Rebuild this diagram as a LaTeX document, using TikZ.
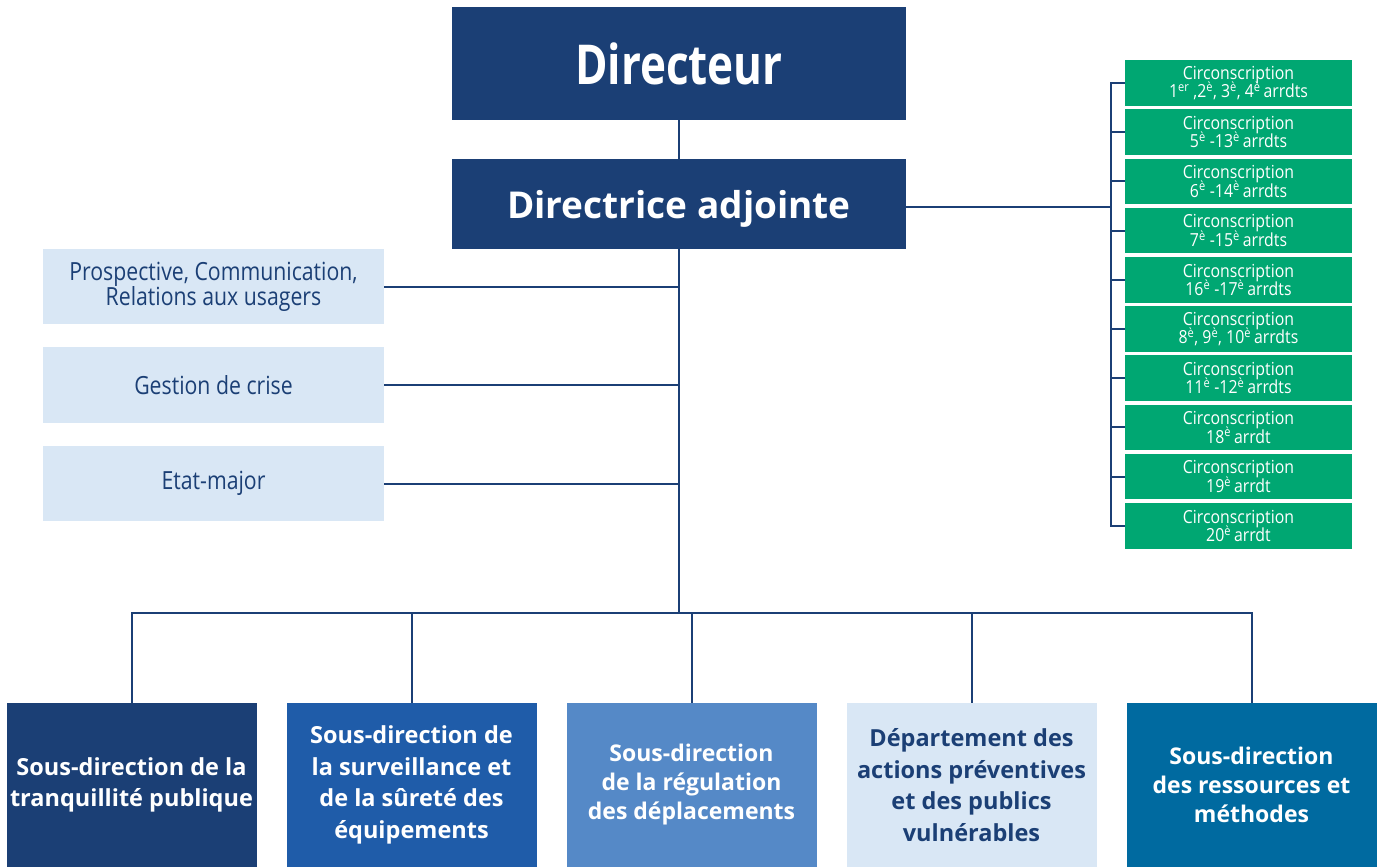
\documentclass[tikz,border=0pt]{standalone}
\usepackage{fontspec}
\setmainfont{Open Sans}
\newfontfamily\narrowfont[FakeStretch=0.8]{Open Sans}
\newfontfamily\staffont[FakeStretch=0.85]{Open Sans}
\newfontfamily\circfont[FakeStretch=0.88]{Open Sans}
\usetikzlibrary{positioning}
\definecolor{navy}{HTML}{1B3F75}
\definecolor{paleblue}{HTML}{D9E7F5}
\definecolor{midblue}{HTML}{1F5CA9}
\definecolor{skyblue}{HTML}{5589C7}
\definecolor{seablue}{HTML}{006AA0}
\definecolor{circgreen}{HTML}{00A772}
\newcommand{\ieme}{\textsuperscript{è}}
\newcommand{\circtext}{\circfont\fontsize{18}{18.5}\selectfont\lineskiplimit -4pt\relax}

\begin{document}
\begin{tikzpicture}[x=1pt,y=-1pt]
    \tikzstyle{chief} = [fill=navy, text=white, shape=rectangle, minimum width=454pt, inner sep=0pt]
    \tikzstyle{staff} = [fill=paleblue, text=navy, shape=rectangle, minimum width=341pt, minimum height=75.5pt, inner sep=0pt, align=center, node distance=98.5pt, font=\staffont\fontsize{25}{25.5}\selectfont]
    \tikzstyle{circ} = [fill=circgreen, text=white, shape=rectangle, minimum width=227pt, minimum height=45.5pt, inner sep=0pt, align=center, node distance=49.2pt, font=\circtext]
    \tikzstyle{subdir} = [text=white, shape=rectangle, minimum width=250pt, minimum height=164pt, inner sep=0pt, align=center, node distance=280pt, font=\bfseries\fontsize{23.5}{31.5}\selectfont]
    \useasboundingbox (0,0) rectangle (1379,867);
    %Creating Blocks and Connection Nodes
    \node [chief, minimum height=113pt, font=\narrowfont\bfseries\fontsize{55}{55}\selectfont] (dir) at (679,63.5) {Directeur};
    \node [chief, minimum height=90pt, text depth=0pt, font=\bfseries\fontsize{37}{37}\selectfont] (dir_adj) at (679,204) {Directrice adjointe};

    \node [staff] (staff_1) at (213.5,286.7) {Prospective, Communication,\\Relations aux usagers};
    \node [staff, below of=staff_1] (staff_2) {Gestion de crise};
    \node [staff, below of=staff_2] (staff_3) {Etat-major};

    \node [circ] (circ_1) at (1238.5,83) {Circonscription\\1\textsuperscript{er} ,2\ieme, 3\ieme, 4\ieme\,arrdts};
    \node [circ, below of=circ_1] (circ_2) {Circonscription\\5\ieme\ -13\ieme\,arrdts};
    \node [circ, below of=circ_2] (circ_3) {Circonscription\\6\ieme\ -14\ieme\,arrdts};
    \node [circ, below of=circ_3] (circ_4) {Circonscription\\7\ieme\ -15\ieme\,arrdts};
    \node [circ, below of=circ_4] (circ_5) {Circonscription\\16\ieme\ -17\ieme\,arrdts};
    \node [circ, below of=circ_5] (circ_6) {Circonscription\\8\ieme, 9\ieme, 10\ieme\,arrdts};
    \node [circ, below of=circ_6] (circ_7) {Circonscription\\11\ieme\ -12\ieme\,arrdts};
    \node [circ, below of=circ_7] (circ_8) {Circonscription\\18\ieme\,arrdt};
    \node [circ, below of=circ_8] (circ_9) {Circonscription\\19\ieme\,arrdt};
    \node [circ, below of=circ_9] (circ_10) {Circonscription\\20\ieme\,arrdt};

    \node [subdir, fill=navy] (sd_1) at (131.5,785) {Sous-direction de la\\tranquillité publique};
    \node [subdir, fill=midblue, right of=sd_1] (sd_2) {Sous-direction de\\la surveillance et\\de la sûreté des\\équipements};
    \node [subdir, fill=skyblue, right of=sd_2, font=\bfseries\fontsize{23}{29}\selectfont] (sd_3) {Sous-direction\\de la régulation\\des déplacements};
    \node [subdir, fill=paleblue, text=navy, right of=sd_3] (sd_4) {Département des\\actions préventives\\et des publics\\vulnérables};
    \node [subdir, fill=seablue, right of=sd_4, font=\bfseries\fontsize{23}{29}\selectfont] (sd_5) {Sous-direction\\des ressources et\\méthodes};

    \coordinate (bus_mid) at (679,613);
    \coordinate (bracket) at (1111,0);
    %Conecting Blocks
    \begin{scope}[draw=navy, line width=2pt]
        \draw (dir) -- (dir_adj);
        \draw (dir_adj) -- (bus_mid);
        \draw (staff_1.east) -- (staff_1.east -| dir_adj);
        \draw (staff_2.east) -- (staff_2.east -| dir_adj);
        \draw (staff_3.east) -- (staff_3.east -| dir_adj);

        \draw (sd_1.north) |- (bus_mid) -| (sd_5.north);
        \draw (sd_2.north) -- (sd_2.north |- bus_mid);
        \draw (sd_3.north) -- (sd_3.north |- bus_mid);
        \draw (sd_4.north) -- (sd_4.north |- bus_mid);

        \draw ([yshift=-3pt]dir_adj.east) -- ([yshift=-3pt]dir_adj.east -| bracket);
        \draw (circ_1.west) -| (circ_10.west -| bracket) -- (circ_10.west);
        \draw (circ_2.west) -- (circ_2.west -| bracket);
        \draw (circ_3.west) -- (circ_3.west -| bracket);
        \draw (circ_4.west) -- (circ_4.west -| bracket);
        \draw (circ_5.west) -- (circ_5.west -| bracket);
        \draw (circ_6.west) -- (circ_6.west -| bracket);
        \draw (circ_7.west) -- (circ_7.west -| bracket);
        \draw (circ_8.west) -- (circ_8.west -| bracket);
        \draw (circ_9.west) -- (circ_9.west -| bracket);
    \end{scope}
\end{tikzpicture}
\end{document}
